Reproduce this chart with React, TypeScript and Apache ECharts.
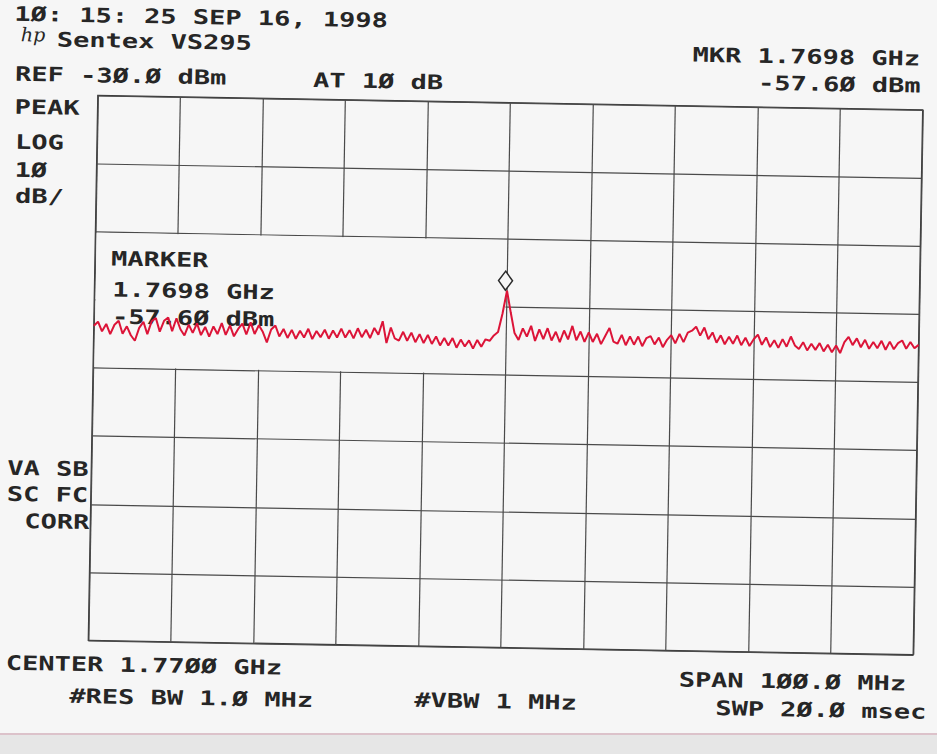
import React, { useEffect, useRef } from 'react';
import * as echarts from 'echarts';

// analyser settings (offsets are in MHz from the 1.7700 GHz centre)
const SPAN_MHZ = 100;
const REF_DBM = -30;
const DB_PER_DIV = 10;
const MARKER_OFFSET_MHZ = -0.2;
const MARKER_DBM = -57.6;

// trace, 201 sweep points across the span
const traceDbm = [
  -63.8, -63.2, -64.6, -63.5, -65.0, -63.6,
  -63.0, -64.9, -63.8, -65.1, -65.9,
  -64.0, -63.1, -64.9, -63.0, -62.5,
  -64.5, -62.9, -62.4, -64.4, -62.5,
  -64.1, -65.0, -63.4, -64.6, -63.2,
  -64.9, -63.7, -65.1, -63.6, -64.7,
  -63.1, -64.8, -63.4, -65.0, -63.9,
  -63.1, -64.7, -62.9, -64.6, -63.3,
  -64.3, -65.8, -63.9, -63.3, -64.9,
  -63.8, -65.1, -63.9, -65.2, -64.0,
  -65.0, -63.7, -65.2, -64.0, -64.9,
  -63.8, -65.1, -63.9, -64.9, -63.6,
  -64.9, -63.8, -65.0, -63.5, -64.8,
  -63.7, -64.9, -63.4, -64.4, -62.4,
  -65.6, -63.3, -64.9, -65.2, -63.9,
  -65.2, -64.0, -65.4, -64.2, -65.5,
  -64.3, -65.6, -64.5, -65.8, -64.7,
  -65.8, -64.7, -66.1, -64.9, -65.9,
  -65.0, -66.2, -64.9, -65.9, -64.8,
  -65.0, -64.2, -63.7, -61.0,
  -57.6,
  -60.8, -63.8, -64.8, -63.1,
  -64.3, -62.7, -64.9, -63.2, -64.6,
  -63.0, -64.8, -63.5, -65.0, -63.3,
  -64.6, -62.6, -64.7, -63.4, -64.9,
  -63.5, -64.9, -63.7, -65.2, -64.0,
  -62.8, -64.8, -65.1, -63.8, -65.3,
  -64.0, -65.2, -64.0, -65.4, -64.2,
  -63.9, -65.1, -64.1, -65.5, -64.4,
  -63.7, -64.9, -63.5, -64.7, -63.3,
  -63.0, -62.4, -63.7, -62.5, -64.2,
  -63.2, -64.7, -63.6, -64.9, -63.8,
  -64.8, -63.6, -65.0, -63.9, -65.1,
  -64.1, -63.4, -64.9, -63.8, -65.2,
  -64.2, -65.3, -64.0, -65.1, -63.6,
  -64.9, -65.4, -64.4, -65.6, -64.6,
  -65.5, -64.5, -65.7, -64.7, -65.8,
  -64.8, -65.9, -64.3, -63.5, -64.7,
  -63.7, -65.0, -63.9, -65.2, -64.2,
  -65.1, -64.0, -65.3, -64.1, -65.2,
  -64.3, -63.9, -65.1, -64.1, -65.0, -64.5,
];

// sweep point frequencies, spread evenly over the span
const sweepMHz = traceDbm.map((_, i) => -SPAN_MHZ / 2 + (i * SPAN_MHZ) / (traceDbm.length - 1));

// annotation texts printed by the plotter
const headerTexts = [
  '1Ø: 15: 25 SEP 16, 1998',
  'Sentex VS295',
  'REF -3Ø.Ø dBm',
  'AT 1Ø dB',
  'MKR 1.7698 GHz',
  '-57.6Ø dBm',
];
const sideTexts = ['PEAK', 'LOG', '1Ø', 'dB/', 'VA SB', 'SC FC', 'CORR'];
const markerTexts = ['MARKER', '1.7698 GHz', '-57.6Ø dBm'];
const footerTexts = ['CENTER 1.77ØØ GHz', '#RES BW 1.Ø MHz', '#VBW 1 MHz', 'SPAN 1ØØ.Ø MHz', 'SWP 2Ø.Ø msec'];

const PAPER = '#f6f6f6';
const INK = '#262626';
const TRACE_RED = '#dc1438';

const plotText = (text: string, x: number, y: number, z = 6) => ({
  type: 'text',
  x,
  y,
  scaleX: 1.35,
  z,
  silent: true,
  style: {
    text,
    fill: INK,
    fontFamily: '"DejaVu Sans Mono", monospace',
    fontSize: 20,
    fontWeight: 'bold',
    align: 'left',
    verticalAlign: 'middle',
    textAlign: 'left',
    textVerticalAlign: 'middle',
  },
});

const App: React.FC = () => {
  const chartRef = useRef<HTMLDivElement>(null);

  useEffect(() => {
    if (!chartRef.current) return;
    const chart = echarts.init(chartRef.current, null, { renderer: 'svg' });

    const bottom = REF_DBM - 8 * DB_PER_DIV;

    const option = {
      animation: false,
      backgroundColor: 'transparent',
      grid: {
        left: 93,
        right: 19,
        top: 102,
        bottom: 107,
        show: true,
        borderColor: '#3a3a3a',
        borderWidth: 1.4,
        backgroundColor: 'transparent',
      },
      xAxis: {
        type: 'value',
        min: -SPAN_MHZ / 2,
        max: SPAN_MHZ / 2,
        interval: SPAN_MHZ / 10,
        axisLabel: { show: false },
        axisTick: { show: false },
        axisLine: { show: false },
        splitLine: { lineStyle: { color: '#4a4a4a', width: 1.2 } },
      },
      yAxis: {
        type: 'value',
        min: bottom,
        max: REF_DBM,
        interval: DB_PER_DIV,
        axisLabel: { show: false },
        axisTick: { show: false },
        axisLine: { show: false },
        splitLine: { lineStyle: { color: '#4a4a4a', width: 1.2 } },
      },
      series: [
        {
          type: 'line',
          data: sweepMHz.map((f, i) => [f, traceDbm[i]]),
          symbol: 'none',
          z: 4,
          lineStyle: { color: TRACE_RED, width: 2 },
          // the plotter leaves the graticule blank behind the marker readout
          markArea: {
            z: 1,
            silent: true,
            label: { show: false },
            itemStyle: { color: PAPER },
            data: [[{ coord: [-SPAN_MHZ / 2 + 0.15, REF_DBM - 2 * DB_PER_DIV - 0.15] }, { coord: [-0.15, REF_DBM - 4 * DB_PER_DIV + 0.15] }]],
          },
          markPoint: {
            z: 5,
            silent: true,
            symbol: 'diamond',
            symbolSize: [14, 19],
            symbolOffset: [0, -10],
            itemStyle: { color: PAPER, borderColor: '#2a2a2a', borderWidth: 1.5 },
            label: { show: false },
            data: [{ coord: [MARKER_OFFSET_MHZ, MARKER_DBM] }],
          },
        },
      ],
      graphic: [
        plotText(headerTexts[0], 8, 22),
        {
          type: 'text',
          x: 15,
          y: 42,
          z: 6,
          silent: true,
          style: {
            text: 'hp',
            fill: INK,
            fontFamily: '"DejaVu Serif", serif',
            fontStyle: 'italic',
            fontSize: 19,
            align: 'left',
            verticalAlign: 'middle',
            textAlign: 'left',
            textVerticalAlign: 'middle',
          },
        },
        plotText(headerTexts[1], 51, 47),
        plotText(headerTexts[2], 10, 82),
        plotText(headerTexts[3], 308, 83),
        plotText(headerTexts[4], 687, 51),
        plotText(headerTexts[5], 753, 78),
        plotText(sideTexts[0], 10, 115),
        plotText(sideTexts[1], 11, 150),
        plotText(sideTexts[2], 11, 178),
        plotText(sideTexts[3], 12, 204),
        plotText(sideTexts[4], 9, 476),
        plotText(sideTexts[5], 9, 502),
        plotText(sideTexts[6], 27, 529),
        plotText(markerTexts[0], 109, 265, 2),
        plotText(markerTexts[1], 111, 296, 2),
        plotText(markerTexts[2], 111, 323, 2),
        plotText(footerTexts[0], 11, 671),
        plotText(footerTexts[1], 75, 703),
        plotText(footerTexts[2], 420, 701),
        plotText(footerTexts[3], 684, 676),
        plotText(footerTexts[4], 721, 704),
      ],
    };

    chart.setOption(option as echarts.EChartsOption);

    return () => {
      chart.dispose();
    };
  }, []);

  return (
    <div style={styles.page}>
      <div ref={chartRef} style={styles.chart} />
    </div>
  );
};

const styles: Record<string, React.CSSProperties> = {
  page: {
    position: 'fixed',
    left: 0,
    top: 0,
    width: '937px',
    height: '754px',
    overflow: 'hidden',
    background: `linear-gradient(to bottom, ${PAPER} 0px, ${PAPER} 733px, #dcc2ca 733px, #dcc2ca 735px, #e6e6e6 735px)`,
  },
  chart: {
    width: '937px',
    height: '754px',
    // the scanned sheet sits about a degree off square
    transform: 'rotate(1deg)',
  },
};

export default App;
